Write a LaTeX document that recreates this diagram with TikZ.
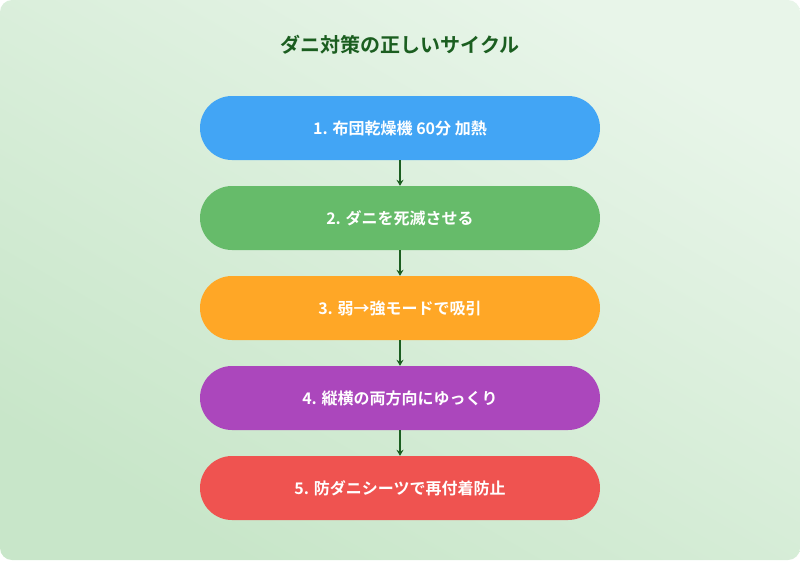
\documentclass[tikz,border=0pt]{standalone}
\usepackage{fontspec}
\newfontfamily\cjk{Noto Sans CJK JP Bold}
\usetikzlibrary{arrows.meta}
\definecolor{bgA}{HTML}{E8F5E9}
\definecolor{bgB}{HTML}{C8E6C9}
\definecolor{ttl}{HTML}{1B5E20}
\definecolor{c1}{HTML}{42A5F5}
\definecolor{c2}{HTML}{66BB6A}
\definecolor{c3}{HTML}{FFA726}
\definecolor{c4}{HTML}{AB47BC}
\definecolor{c5}{HTML}{EF5350}
\tikzset{stepbox/.style={rounded corners=32pt,minimum width=400pt,minimum height=64pt,text=white,font=\cjk\fontsize{16}{18}\selectfont,inner sep=0pt},
conn/.style={draw=ttl,line width=1.5pt,-{Stealth[length=6pt,width=7pt]}}}
\begin{document}
\begin{tikzpicture}[x=1pt,y=-1pt]
\useasboundingbox (0,0) rectangle (800,560);
\shade[rounded corners=12pt,top color=bgA,bottom color=bgB,shading angle=-30] (0,0) rectangle (800,560);
\node[font=\cjk\fontsize{20}{24}\selectfont,text=ttl] (t) at (400,45) {ダニ対策の正しいサイクル};
\node[stepbox,fill=c1] (s1) at (400,128) {1. 布団乾燥機 60分 加熱};
\node[stepbox,fill=c2] (s2) at (400,218) {2. ダニを死滅させる};
\node[stepbox,fill=c3] (s3) at (400,308) {3. 弱→強モードで吸引};
\node[stepbox,fill=c4] (s4) at (400,398) {4. 縦横の両方向にゆっくり};
\node[stepbox,fill=c5] (s5) at (400,488) {5. 防ダニシーツで再付着防止};
\draw[conn] (s1) -- (s2);
\draw[conn] (s2) -- (s3);
\draw[conn] (s3) -- (s4);
\draw[conn] (s4) -- (s5);
\end{tikzpicture}
\end{document}
